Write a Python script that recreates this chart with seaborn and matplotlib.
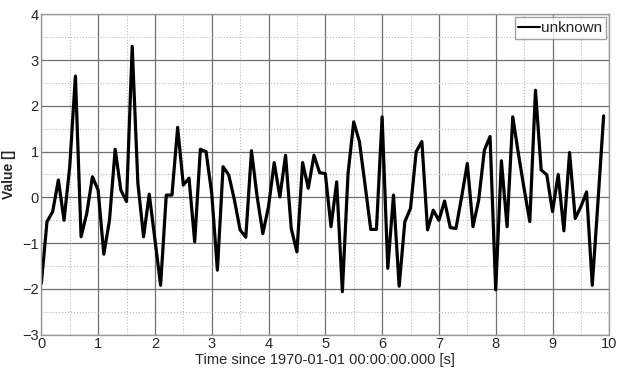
import numpy as np
import pandas as pd
import matplotlib
matplotlib.use("Agg")
import matplotlib.pyplot as plt
import seaborn as sns
from matplotlib.ticker import MultipleLocator

# sample times (s) and values
time_s = np.round(np.arange(0, 10, 0.1), 1)
values = [
    -1.88, -0.53, -0.31, 0.38, -0.50, 0.67, 2.65, -0.86, -0.35, 0.45,
    0.16, -1.24, -0.50, 1.05, 0.16, -0.09, 3.30, 0.31, -0.86, 0.07,
    -0.92, -1.92, 0.05, 0.05, 1.53, 0.27, 0.42, -0.97, 1.05, 1.00,
    0.09, -1.59, 0.67, 0.49, -0.06, -0.71, -0.87, 1.02, 0.01, -0.79,
    -0.20, 0.76, 0.01, 0.92, -0.68, -1.19, 0.76, 0.20, 0.92, 0.54,
    0.52, -0.64, 0.34, -2.06, 0.52, 1.65, 1.22, 0.27, -0.70, -0.70,
    1.76, -1.55, 0.05, -1.94, -0.53, -0.24, 1.00, 1.22, -0.71, -0.28,
    -0.50, -0.08, -0.66, -0.68, 0.01, 0.74, -0.64, -0.06, 1.03, 1.33,
    -2.02, 0.80, -0.64, 1.76, 0.95, 0.19, -0.53, 2.34, 0.60, 0.49,
    -0.31, 0.50, -0.73, 0.98, -0.46, -0.20, 0.12, -1.92, -0.10, 1.78,
]
series_name = "unknown"

df = pd.DataFrame({"t": time_s, "v": values})

sns.set_style("white")
plt.rcParams["font.family"] = ["Liberation Sans Narrow", "Liberation Sans", "DejaVu Sans"]

fig = plt.figure(figsize=(6.29, 3.81), dpi=100)
ax = fig.add_axes([0.0657, 0.1215, 0.903, 0.841])

sns.lineplot(data=df, x="t", y="v", ax=ax, color="black", linewidth=2.3,
             label=series_name)

ax.set_xlim(0, 10)
ax.set_ylim(-3, 4)
ax.xaxis.set_major_locator(MultipleLocator(1))
ax.xaxis.set_minor_locator(MultipleLocator(0.5))
ax.yaxis.set_major_locator(MultipleLocator(1))
ax.yaxis.set_minor_locator(MultipleLocator(0.5))
ax.grid(which="major", color="#707070", linestyle="-", linewidth=0.9)
ax.grid(which="minor", color="#b8b8b8", linestyle=":", linewidth=0.8)
ax.set_axisbelow(True)
for s in ax.spines.values():
    s.set_color("#999999")
    s.set_linewidth(1.0)
ax.tick_params(which="both", length=0, labelsize=10.5, pad=2)

ax.set_xlabel("Time since 1970-01-01 00:00:00.000 [s]", fontsize=10.5, labelpad=1)
ax.set_ylabel("Value []", fontsize=10, fontweight="bold", labelpad=4)

leg = ax.legend(loc="upper right", fontsize=11, frameon=True, fancybox=False,
                handlelength=1.4, handletextpad=0.1, borderpad=0.25,
                borderaxespad=0.2)
leg.get_frame().set_edgecolor("#888888")
leg.get_frame().set_linewidth(1.0)
for line in leg.get_lines():
    line.set_linewidth(1.5)

fig.savefig("out.png", dpi=100, facecolor="white")
